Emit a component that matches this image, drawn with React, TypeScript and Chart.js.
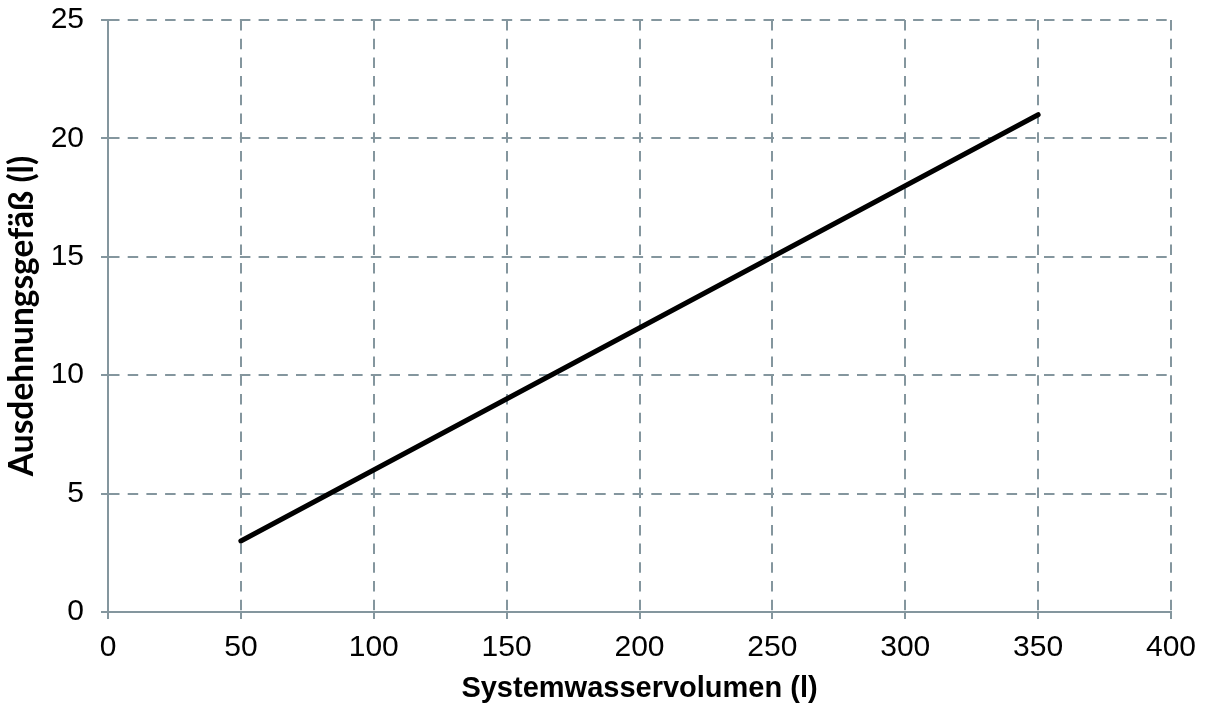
import React, { useEffect, useRef } from "react";
import { Chart, registerables } from "chart.js";

Chart.register(...registerables);

const xValues = [50, 350];
const yValues = [3, 21];
const xTitle = "Systemwasservolumen (l)";
const yTitle = "Ausdehnungsgefäß (l)";
const xMin = 0, xMax = 400, xStep = 50;
const yMin = 0, yMax = 25, yStep = 5;

const GRID = "#84969E";

export default function App() {
  const ref = useRef<HTMLCanvasElement>(null);
  useEffect(() => {
    document.body.style.margin = "0";
    const ctx = ref.current!;
    const chart = new Chart(ctx, {
      type: "line",
      data: {
        datasets: [
          {
            data: xValues.map((x, i) => ({ x, y: yValues[i] })),
            borderColor: "#000000",
            borderWidth: 5,
            borderCapStyle: "round",
            pointRadius: 0,
            fill: false,
            tension: 0,
          },
        ],
      },
      options: {
        responsive: false,
        animation: false,
        layout: { padding: { left: 0, right: 39, top: 20, bottom: 0 } },
        plugins: { legend: { display: false }, tooltip: { enabled: false } },
        scales: {
          x: {
            type: "linear",
            min: xMin,
            max: xMax,
            ticks: {
              stepSize: xStep,
              color: "#000",
              padding: 11,
              font: { family: "'Liberation Sans', Arial, sans-serif", size: 30 },
              maxRotation: 0,
            },
            grid: { color: GRID, lineWidth: 2, tickLength: 7, tickWidth: 2 },
            border: { display: true, color: GRID, width: 2, dash: [10.5, 8.2] },
            title: {
              display: true,
              text: xTitle,
              color: "#000",
              font: { family: "'Liberation Sans', Arial, sans-serif", size: 29, weight: "bold" },
              padding: { top: 0, bottom: -1 },
            },
            afterFit: (s: any) => { s.height = 93; },
          },
          y: {
            type: "linear",
            min: yMin,
            max: yMax,
            ticks: {
              stepSize: yStep,
              color: "#000",
              padding: 17,
              font: { family: "'Liberation Sans', Arial, sans-serif", size: 30 },
            },
            grid: { color: GRID, lineWidth: 2, tickLength: 7, tickWidth: 2 },
            border: { display: true, color: GRID, width: 2, dash: [10.5, 8.2] },
            title: {
              display: true,
              text: yTitle,
              color: "#000",
              font: { family: "Lato, 'Open Sans', sans-serif", size: 33.5, weight: "bold" },
              padding: { top: 2, bottom: 0 },
            },
            afterFit: (s: any) => { s.width = 108; s.paddingTop = 0; s.paddingBottom = 0; },
          },
        },
      },
    });
    return () => chart.destroy();
  }, []);
  return <canvas ref={ref} width={1210} height={705} style={{ display: "block" }} />;
}
